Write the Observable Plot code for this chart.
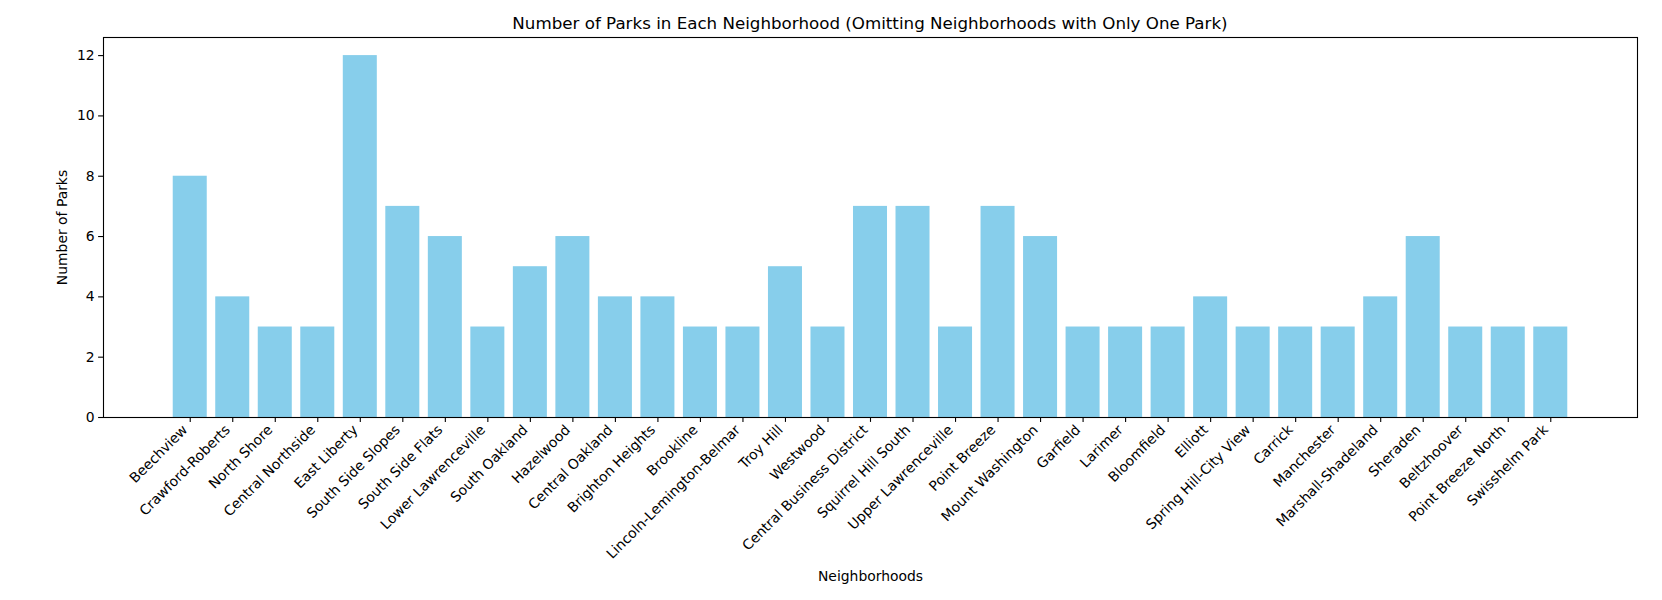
<!DOCTYPE html>
<html>
<head>
<meta charset="utf-8">
<script src="https://cdn.jsdelivr.net/npm/d3@7"></script>
<script src="https://cdn.jsdelivr.net/npm/@observablehq/plot@0.6"></script>
<style>
  html, body { margin: 0; padding: 0; background: #fff; }
  #wrap { position: relative; width: 1662px; height: 600px; font-family: "DejaVu Sans", sans-serif; }
  #title { position: absolute; left: 103px; width: 1534px; top: 13px; text-align: center;
           font-size: 16.7px; line-height: 20px; color: #000; }
  #chart { position: absolute; left: 0; top: 0; }
</style>
</head>
<body>
<div id="wrap">
  <div id="chart"></div>
  <div id="title">Number of Parks in Each Neighborhood (Omitting Neighborhoods with Only One Park)</div>
</div>
<script>
const neighborhoods = [
  "Beechview", "Crawford-Roberts", "North Shore", "Central Northside", "East Liberty",
  "South Side Slopes", "South Side Flats", "Lower Lawrenceville", "South Oakland", "Hazelwood",
  "Central Oakland", "Brighton Heights", "Brookline", "Lincoln-Lemington-Belmar", "Troy Hill",
  "Westwood", "Central Business District", "Squirrel Hill South", "Upper Lawrenceville", "Point Breeze",
  "Mount Washington", "Garfield", "Larimer", "Bloomfield", "Elliott",
  "Spring Hill-City View", "Carrick", "Manchester", "Marshall-Shadeland", "Sheraden",
  "Beltzhoover", "Point Breeze North", "Swisshelm Park"
];
const parkCounts = [
  8, 4, 3, 3, 12,
  7, 6, 3, 5, 6,
  4, 4, 3, 3, 5,
  3, 7, 7, 3, 7,
  6, 3, 3, 3, 4,
  3, 3, 3, 4, 6,
  3, 3, 3
];
const yTicks = [0, 2, 4, 6, 8, 10, 12];
const xLabel = "Neighborhoods";
const yLabel = "Number of Parks";

const data = neighborhoods.map((n, i) => ({ name: n, count: parkCounts[i] }));

const chart = Plot.plot({
  width: 1662,
  height: 600,
  marginTop: 37,
  marginBottom: 183,
  marginLeft: 103,
  marginRight: 25,
  style: { fontFamily: "DejaVu Sans, sans-serif", fontSize: "13.9px", color: "#000", background: "#fff" },
  x: { type: "band", domain: neighborhoods, paddingInner: 0.2, paddingOuter: 1.64, align: 0.5, round: false },
  y: { domain: [0, 12.6] },
  marks: [
    Plot.barY(data, { x: "name", y: "count", fill: "#87CEEB" }),
    Plot.axisX({
      text: null, tickSize: 4.9, strokeWidth: 1.1,
      label: xLabel, labelAnchor: "center", labelArrow: "none", labelOffset: 163,
      fontSize: 13.9
    }),
    Plot.axisX({
      tickSize: 0, tickRotate: -45, tickPadding: 10, dx: -5, dy: 0,
      label: null, fontSize: 13.9
    }),
    Plot.axisY({
      ticks: yTicks, tickSize: 4.9, tickPadding: 4, strokeWidth: 1.1,
      label: yLabel, labelAnchor: "center", labelArrow: "none", labelOffset: 46,
      fontSize: 13.9
    }),
    Plot.frame({ stroke: "#000", strokeWidth: 1.1 })
  ]
});
document.getElementById("chart").appendChild(chart);
</script>
</body>
</html>
